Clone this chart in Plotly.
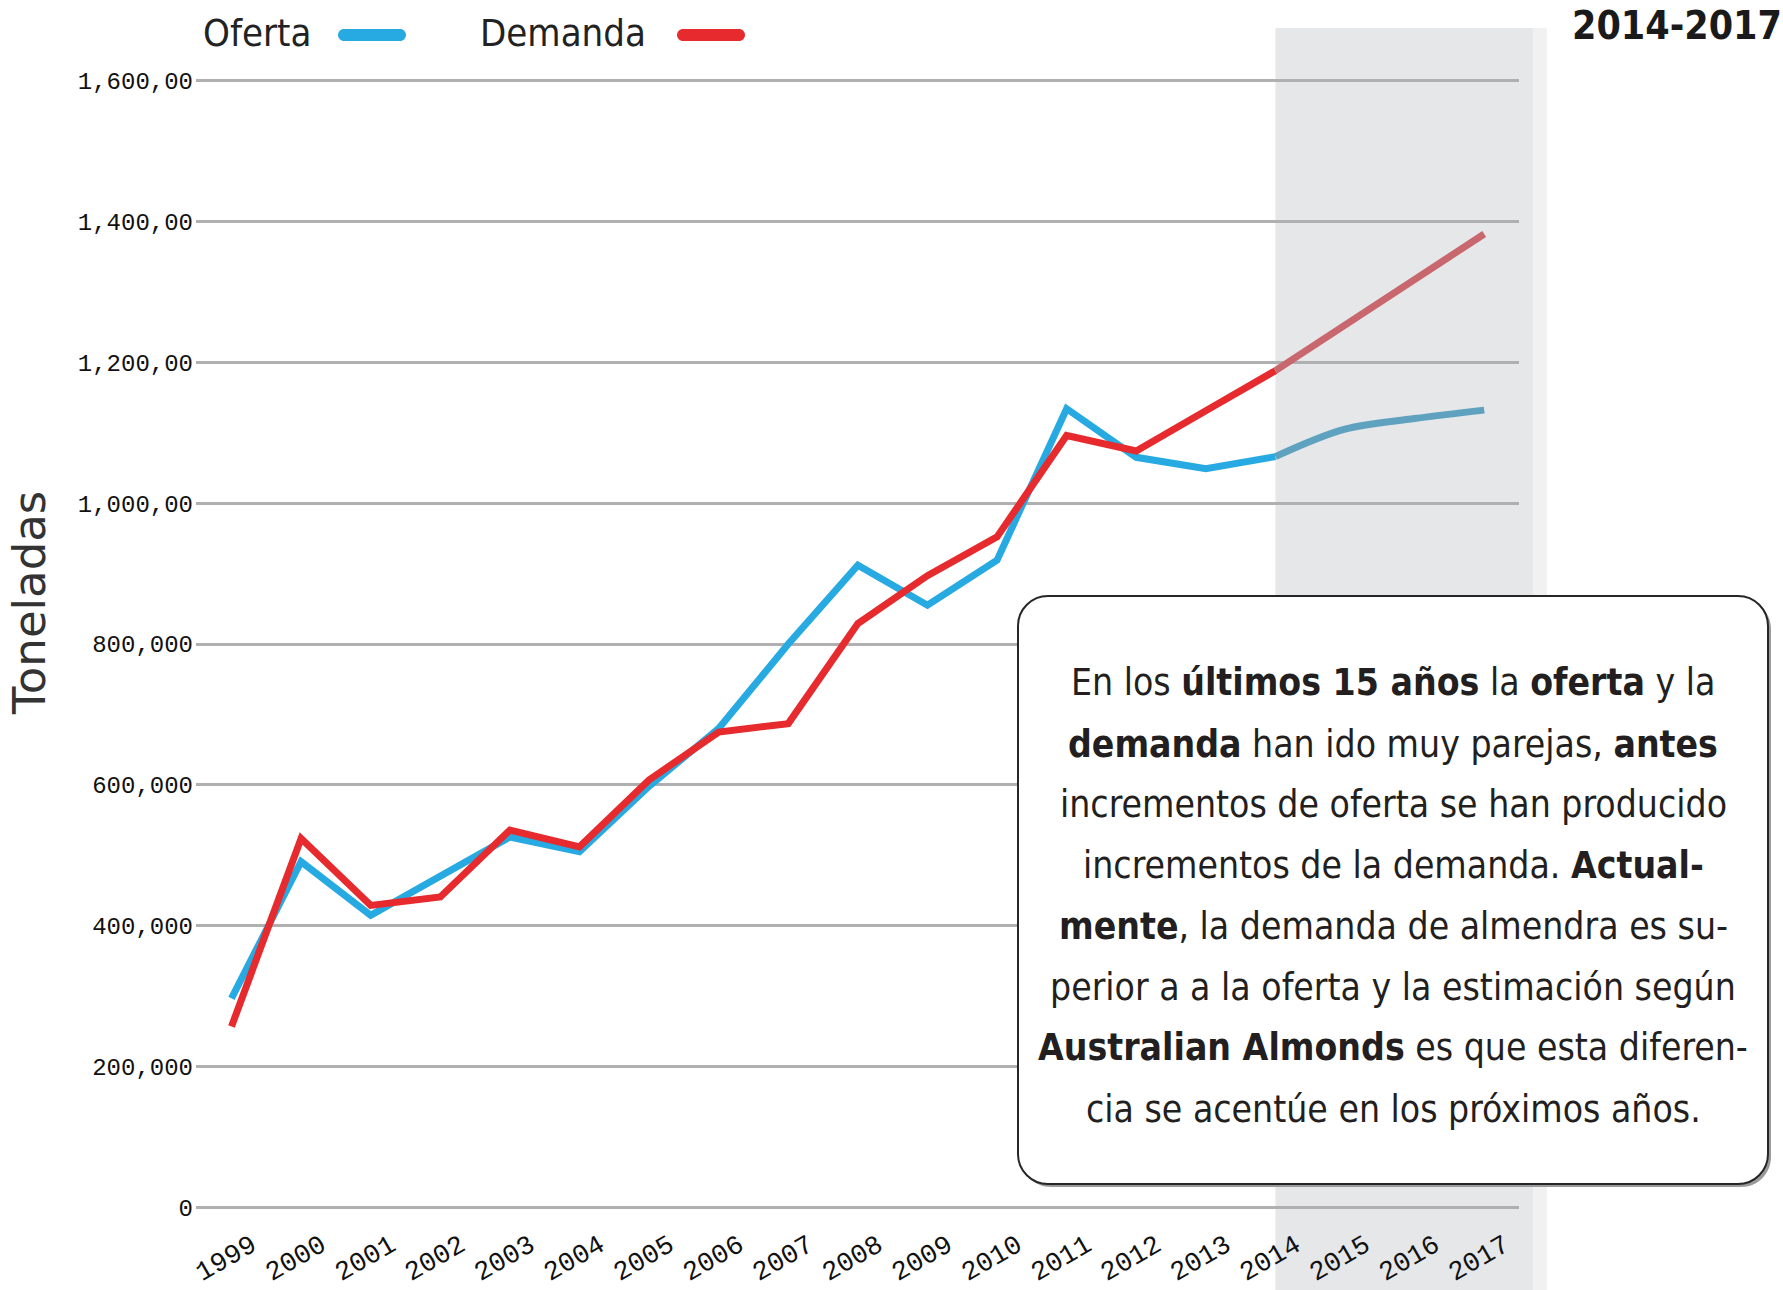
import plotly.graph_objects as go

# ---------------- data ----------------
years = ["1999", "2000", "2001", "2002", "2003", "2004", "2005", "2006", "2007",
         "2008", "2009", "2010", "2011", "2012", "2013", "2014", "2015", "2016", "2017"]
# thousands of tonnes
oferta = [297, 491, 415, 470, 526, 505, 598, 680, 800, 912, 855, 919, 1134, 1065,
          1049, 1066, 1105, 1120, 1132]
demanda = [257, 524, 429, 441, 536, 512, 607, 675, 687, 829, 897, 952, 1096, 1074,
           1131, 1188, 1253, 1318, 1382]
forecast_start = "2014"

y_tickvals = [0, 200, 400, 600, 800, 1000, 1200, 1400, 1600]
y_ticktext = ["0", "200,000", "400,000", "600,000", "800,000",
              "1,000,00", "1,200,00", "1,400,00", "1,600,00"]

note_lines = [
    "En los <b>últimos 15 años</b> la <b>oferta</b> y la",
    "<b>demanda</b> han ido muy parejas, <b>antes</b>",
    "incrementos de oferta se han producido",
    "incrementos de la demanda. <b>Actual-</b>",
    "<b>mente</b>, la demanda de almendra es su-",
    "perior a a la oferta y la estimación según",
    "<b>Australian Almonds</b> es que esta diferen-",
    "cia se acentúe en los próximos años.",
]

# ---------------- layout geometry ----------------
W, H = 1783, 1290
ML, MR, MT, MB = 196, 264, 79, 81
PW, PH = W - ML - MR, H - MT - MB
XR = [-0.51, 18.5]
YR = [-2, 1602]

def px(x):
    return (x - ML) / PW

def py(y):
    return (H - MB - y) / PH

def xdata_to_paper(v):
    return (v - XR[0]) / (XR[1] - XR[0])

BLUE, RED = "#27aae1", "#e62a2d"
BLUE_F, RED_F = "#5fa2bf", "#c9676e"
NARROW = "DejaVu Sans Condensed, Liberation Sans Narrow, Roboto, sans-serif"
MONO = "Courier New, Liberation Mono, monospace"

i0 = years.index(forecast_start)

fig = go.Figure()
fig.add_trace(go.Scatter(x=years[:i0 + 1], y=oferta[:i0 + 1], mode="lines",
                         line=dict(color=BLUE, width=7), name="Oferta", showlegend=False))
fig.add_trace(go.Scatter(x=years[:i0 + 1], y=demanda[:i0 + 1], mode="lines",
                         line=dict(color=RED, width=7), name="Demanda", showlegend=False))
fig.add_trace(go.Scatter(x=years[i0:], y=oferta[i0:], mode="lines",
                         line=dict(color=BLUE_F, width=7, shape="spline"),
                         name="Oferta (estimación)", showlegend=False))
fig.add_trace(go.Scatter(x=years[i0:], y=demanda[i0:], mode="lines",
                         line=dict(color=RED_F, width=7),
                         name="Demanda (estimación)", showlegend=False))

def rrect(w, h, r):
    x0, x1, y0, y1 = -w / 2, w / 2, -h / 2, h / 2
    k = 0.5523 * r
    return (f"M {x0+r},{y0} L {x1-r},{y0} C {x1-r+k},{y0} {x1},{y0+r-k} {x1},{y0+r} "
            f"L {x1},{y1-r} C {x1},{y1-r+k} {x1-r+k},{y1} {x1-r},{y1} "
            f"L {x0+r},{y1} C {x0+r-k},{y1} {x0},{y1-r+k} {x0},{y1-r} "
            f"L {x0},{y0+r} C {x0},{y0+r-k} {x0+r-k},{y0} {x0+r},{y0} Z")

shapes = []
# forecast shading
shade_x0 = xdata_to_paper(i0)
shade_x1 = xdata_to_paper(len(years) - 1 + 0.7)
shapes.append(dict(type="rect", xref="paper", yref="paper", x0=shade_x1, x1=shade_x1 + 14 / PW,
                   y0=-0.08, y1=py(28), fillcolor="#f1f1f2", line=dict(width=0), layer="below"))
shapes.append(dict(type="rect", xref="paper", yref="paper", x0=shade_x0, x1=shade_x1,
                   y0=-0.08, y1=py(28), fillcolor="#e6e7e9", line=dict(width=0), layer="below"))

# legend pills
for cx, col in [((338 + 406) / 2, BLUE), ((677 + 745) / 2, RED)]:
    shapes.append(dict(type="path", xref="paper", yref="paper", xsizemode="pixel",
                       ysizemode="pixel", xanchor=px(cx), yanchor=py(35),
                       path=rrect(68, 12, 6), fillcolor=col, line=dict(width=0)))

# note box with shadow
bcx, bcy, bw, bh = (1018 + 1768) / 2, (596 + 1184) / 2, 750, 588
shapes.append(dict(type="path", xref="paper", yref="paper", xsizemode="pixel",
                   ysizemode="pixel", xanchor=px(bcx + 3), yanchor=py(bcy + 3),
                   path=rrect(bw, bh, 30), fillcolor="#9a9a9a", line=dict(width=0)))
shapes.append(dict(type="path", xref="paper", yref="paper", xsizemode="pixel",
                   ysizemode="pixel", xanchor=px(bcx), yanchor=py(bcy),
                   path=rrect(bw, bh, 30), fillcolor="white",
                   line=dict(color="#262626", width=2)))

annotations = [
    dict(text="Oferta", xref="paper", yref="paper", x=px(313), y=py(33), xanchor="right",
         yanchor="middle", showarrow=False, font=dict(family=NARROW, size=38, color="#222")),
    dict(text="Demanda", xref="paper", yref="paper", x=px(648), y=py(33), xanchor="right",
         yanchor="middle", showarrow=False, font=dict(family=NARROW, size=38, color="#222")),
    dict(text="<b>2014-2017</b>", xref="paper", yref="paper", x=px(1570), y=py(25),
         xanchor="left", yanchor="middle", showarrow=False,
         font=dict(family=NARROW, size=39, color="#1a1a1a")),
    dict(text="Toneladas", xref="paper", yref="paper", x=px(29), y=py(603),
         xanchor="center", yanchor="middle", textangle=-90, showarrow=False,
         font=dict(family="DejaVu Sans, sans-serif", size=45, color="#333")),
]
line_ys = [682, 744, 804, 865, 926, 987, 1047, 1109]
for t, ly in zip(note_lines, line_ys):
    annotations.append(dict(text=t, xref="paper", yref="paper", x=px(bcx), y=py(ly),
                            xanchor="center", yanchor="middle", showarrow=False,
                            font=dict(family=NARROW, size=37, color="#231f20")))

fig.update_layout(
    width=W, height=H,
    margin=dict(l=ML, r=MR, t=MT, b=MB, autoexpand=False),
    paper_bgcolor="white", plot_bgcolor="rgba(0,0,0,0)",
    shapes=shapes, annotations=annotations,
    xaxis=dict(type="category", range=XR, showgrid=False, zeroline=False, showline=False,
               automargin=False,
               tickangle=-30, tickfont=dict(family=MONO, size=27, color="#111"),
               ticks="", ticklabelshift=20, ticklabelstandoff=14),
    yaxis=dict(range=YR, tickvals=y_tickvals, ticktext=y_ticktext, automargin=False,
               showgrid=True, gridcolor="#b0b0b0", gridwidth=2.5, zeroline=False,
               showline=False, ticks="", tickfont=dict(family=MONO, size=24, color="#111"),
               ticklabelstandoff=2),
    showlegend=False,
)

fig.write_html("out.html")
